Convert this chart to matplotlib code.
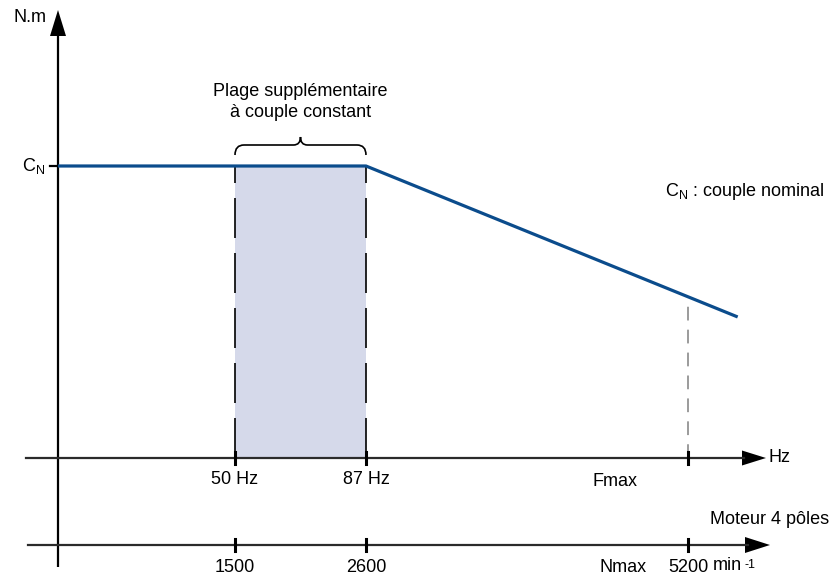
import numpy as np
import matplotlib
matplotlib.use('Agg')
import matplotlib.pyplot as plt
from matplotlib.path import Path
from matplotlib.patches import PathPatch

plt.rcParams['font.family'] = ['Liberation Sans', 'DejaVu Sans']
plt.rcParams['mathtext.fontset'] = 'custom'
plt.rcParams['mathtext.rm'] = 'Liberation Sans'

# Courbe couple / frequence (couple en unites de C_N)
curve_hz = [0, 87, 192]
curve_torque = [1.0, 1.0, 0.483]

# Plage a couple constant supplementaire
range_hz = [50, 87]

# Graduations des deux axes
hz_ticks = [50, 87, 178]
hz_labels = ['50 Hz', '87 Hz', 'Fmax']
rpm_labels = ['1500', '2600', '5200']

BLUE = '#0b4c8c'
FILL = '#d5d9ea'
FS = 13

PX = 3.54   # pixels par Hz
PY = 292.0  # pixels par unite de couple

def dx(p):
    return p / PX

def dy(p):
    return p / PY

fig = plt.figure(figsize=(8.38, 5.79), dpi=100)
ax = fig.add_axes([0, 0, 1, 1])
ax.axis('off')
ax.set_xlim(-dx(58), dx(838 - 58))
ax.set_ylim(-dy(579 - 458), dy(458))

y_rpm = -dy(87)  # axe des vitesses

# Axe vertical + fleche
ax.plot([0, 0], [-dy(109), dy(458 - 34)], color='black', lw=1.6, solid_capstyle='butt')
ax.fill([-dx(8), dx(8), 0], [dy(458 - 36), dy(458 - 36), dy(458 - 10)], color='black', lw=0)

# Axe Hz + fleche
ax.plot([-dx(32), dx(686)], [0, 0], color='#2b2b2b', lw=1.6)
ax.fill([dx(684), dx(684), dx(708)], [dy(7.5), -dy(7.5), 0], color='black', lw=0)

# Axe min-1 + fleche
ax.plot([-dx(30), dx(690)], [y_rpm, y_rpm], color='#2b2b2b', lw=1.6)
ax.fill([dx(687), dx(687), dx(712)], [y_rpm + dy(8), y_rpm - dy(8), y_rpm], color='black', lw=0)

# Zone a couple constant
ax.fill_between(range_hz, 0, 1.0, color=FILL, lw=0, zorder=1)
for h in range_hz:
    ax.plot([h, h], [0, 1.0], color='black', lw=1.2, dashes=(24, 9), zorder=2)

# Courbe
ax.plot(curve_hz, curve_torque, color=BLUE, lw=2.3, solid_capstyle='butt', zorder=4)

# Trait Fmax
f_max = hz_ticks[2]
ax.plot([f_max, f_max], [0, np.interp(f_max, curve_hz, curve_torque)],
        color='#808080', lw=1.1, dashes=(9, 6), zorder=2)

# Graduations
for h in hz_ticks:
    ax.plot([h, h], [-dy(6), dy(6)], color='black', lw=2.2, zorder=5)
    ax.plot([h, h], [y_rpm - dy(6), y_rpm + dy(6)], color='black', lw=2.2, zorder=5)
ax.plot([-dx(8), 0], [1.0, 1.0], color='black', lw=1.6)

# Libelles axe Hz
for h, lab in zip(hz_ticks[:2], hz_labels[:2]):
    ax.text(h, -dy(21), lab, ha='center', va='center', fontsize=FS)
ax.text(dx(615 - 58), -dy(24), hz_labels[2], ha='center', va='center', fontsize=FS)
ax.text(dx(768 - 58), 0, 'Hz', ha='left', va='center', fontsize=FS)

# Libelles axe min-1
for h, lab in zip(hz_ticks, rpm_labels):
    ax.text(h, y_rpm - dy(22), lab, ha='center', va='center', fontsize=FS)
ax.text(dx(623 - 58), y_rpm - dy(22), 'Nmax', ha='center', va='center', fontsize=FS)
ax.text(dx(713 - 58), y_rpm - dy(20), 'min', ha='left', va='center', fontsize=FS)
ax.text(dx(744 - 58), y_rpm - dy(20), '-1', ha='left', va='center', fontsize=9)
ax.text(dx(770 - 58), y_rpm + dy(25), 'Moteur 4 pôles', ha='center', va='center', fontsize=FS)

# Libelles axe vertical
ax.text(-dx(12), dy(458 - 18), 'N.m', ha='right', va='center', fontsize=FS)
ax.text(-dx(13), 1.0, r'C$_\mathregular{N}$', ha='right', va='center', fontsize=FS)
ax.text(dx(665 - 58), 1.0 - dy(25), r'C$_\mathregular{N}$ : couple nominal',
        ha='left', va='center', fontsize=FS)

# Accolade au-dessus de la plage
x0, x1 = range_hz
xm = (x0 + x1) / 2
yb, yt, yp = 1.0 + dy(11), 1.0 + dy(21), 1.0 + dy(29)
r, rt = dx(9), dx(7)
verts = [(x0, yb), (x0, yt), (x0 + r, yt),
         (xm - rt, yt), (xm, yt), (xm, yp),
         (xm, yt), (xm + rt, yt),
         (x1 - r, yt), (x1, yt), (x1, yb)]
codes = [Path.MOVETO, Path.CURVE3, Path.CURVE3,
         Path.LINETO, Path.CURVE3, Path.CURVE3,
         Path.CURVE3, Path.CURVE3,
         Path.LINETO, Path.CURVE3, Path.CURVE3]
ax.add_patch(PathPatch(Path(verts, codes), fill=False, color='black', lw=1.2))
ax.text(xm, dy(458 - 102), 'Plage supplémentaire\nà couple constant',
        ha='center', va='center', fontsize=FS, linespacing=1.3)

fig.savefig('out.png', dpi=100)
